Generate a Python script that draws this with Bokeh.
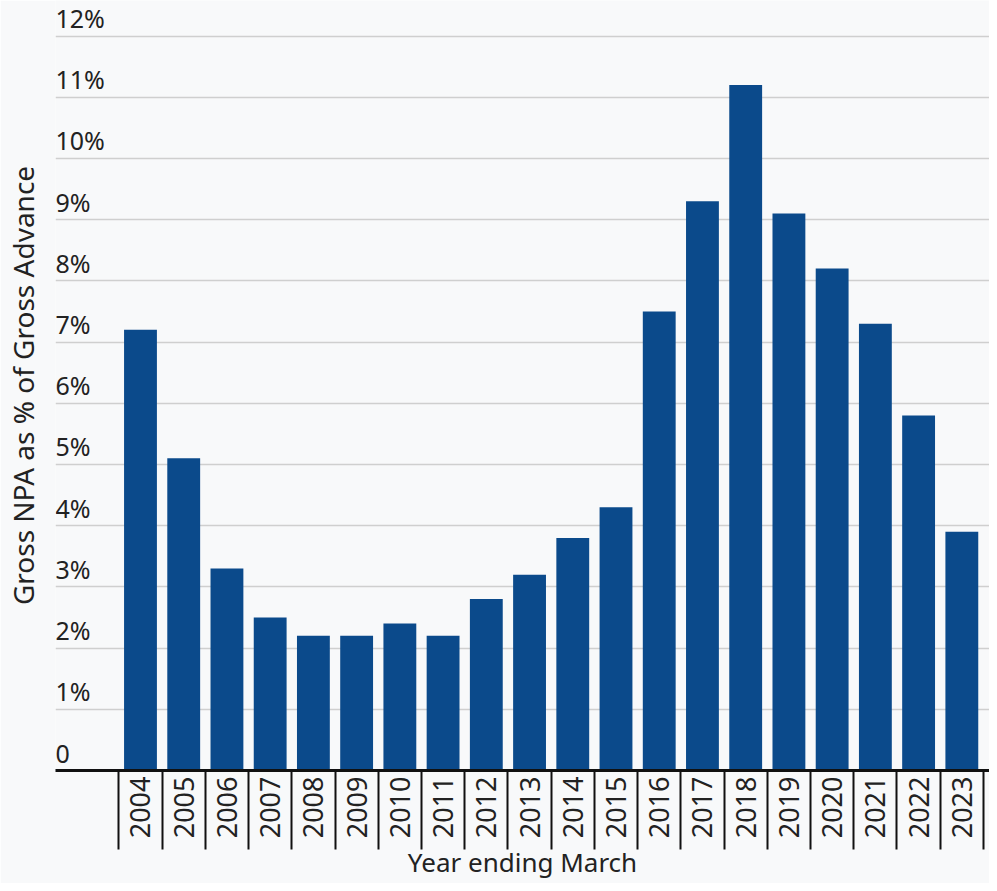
import math
from bokeh.plotting import figure
from bokeh.models import FixedTicker, Range1d, ColumnDataSource, LabelSet
from bokeh.core.properties import value
from bokeh.embed import file_html
from bokeh.resources import INLINE

years = ["2004", "2005", "2006", "2007", "2008", "2009", "2010", "2011", "2012", "2013",
         "2014", "2015", "2016", "2017", "2018", "2019", "2020", "2021", "2022", "2023"]
gross_npa = [7.2, 5.1, 3.3, 2.5, 2.2, 2.2, 2.4, 2.2, 2.8, 3.2,
             3.8, 4.3, 7.5, 9.3, 11.2, 9.1, 8.2, 7.3, 5.8, 3.9]
y_ticks = [0, 1, 2, 3, 4, 5, 6, 7, 8, 9, 10, 11, 12]
y_tick_labels = ["0", "1%", "2%", "3%", "4%", "5%", "6%", "7%", "8%", "9%", "10%", "11%", "12%"]
x_title = "Year ending March"
y_title = "Gross NPA as % of Gross Advance"

FONT = "Noto Sans"
TEXT = "#222222"
BG = "#f8f9fa"

idx = list(range(len(years)))
src = ColumnDataSource(dict(x=idx, top=gross_npa))

X0, X1 = -1.966, 19.64
Y1 = 12.58
p = figure(width=989, height=883, output_backend="svg", toolbar_location=None,
           x_range=Range1d(X0, X1), y_range=Range1d(0, Y1),
           min_border_top=0, min_border_right=0, min_border_left=46, min_border_bottom=0)
p.background_fill_color = BG
p.border_fill_color = BG
p.outline_line_color = None

p.vbar(x="x", top="top", width=0.76, bottom=0, source=src,
       fill_color="#0b4a8b", line_color=None)

# y grid + labels drawn inside plot above gridlines
p.ygrid.ticker = FixedTicker(ticks=y_ticks[1:])
p.ygrid.grid_line_color = "#cfcfcf"
p.ygrid.grid_line_width = 1.5
p.xgrid.grid_line_color = None

lab_src = ColumnDataSource(dict(x=[X0] * len(y_ticks), y=y_ticks, t=y_tick_labels))
p.add_layout(LabelSet(x="x", y="y", text="t", source=lab_src, y_offset=8,
                      text_font=value(FONT), text_font_size="25px", text_color=TEXT,
                      text_baseline="alphabetic", text_align="left"))

ya = p.yaxis[0]
ya.ticker = FixedTicker(ticks=y_ticks)
ya.major_label_overrides = {t: "" for t in y_ticks}
ya.major_label_text_font_size = "1px"
ya.major_tick_line_color = None
ya.minor_tick_line_color = None
ya.axis_line_color = None
ya.major_label_standoff = 0
ya.axis_label = y_title
ya.axis_label_standoff = 8
ya.axis_label_text_font = FONT
ya.axis_label_text_font_size = "28px"
ya.axis_label_text_font_style = "normal"
ya.axis_label_text_color = TEXT

xa = p.xaxis[0]
xa.ticker = FixedTicker(ticks=idx, minor_ticks=[i - 0.5 for i in idx] + [len(idx) - 0.5])
xa.major_label_overrides = {i: y for i, y in zip(idx, years)}
xa.major_label_orientation = math.pi / 2
xa.major_label_text_font = FONT
xa.major_label_text_font_size = "27px"
xa.major_label_text_color = TEXT
xa.major_label_standoff = -73
xa.major_tick_line_color = None
xa.major_tick_out = 0
xa.major_tick_in = 0
xa.minor_tick_line_color = "#111111"
xa.minor_tick_line_width = 2
xa.minor_tick_out = 79
xa.minor_tick_in = 0
xa.axis_line_color = "#111111"
xa.axis_line_width = 3
xa.axis_label = x_title
xa.axis_label_standoff = 3
xa.axis_label_text_baseline = "top"
xa.axis_label_text_font = FONT
xa.axis_label_text_font_size = "26px"
xa.axis_label_text_font_style = "normal"
xa.axis_label_text_color = TEXT

open("out.html", "w").write(file_html(p, INLINE))
